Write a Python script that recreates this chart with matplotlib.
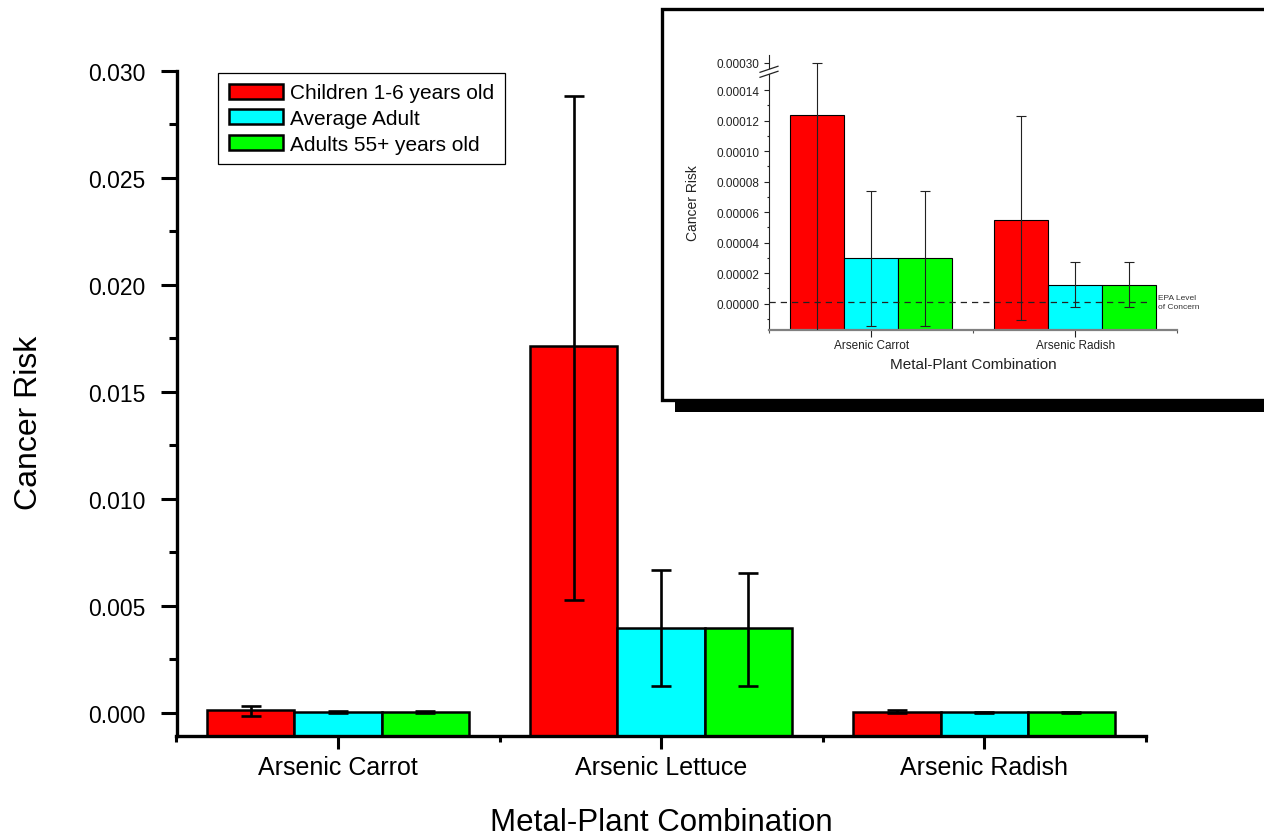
import numpy as np
import matplotlib
matplotlib.use('Agg')
import matplotlib.pyplot as plt
from matplotlib.patches import Rectangle, Polygon
from matplotlib.lines import Line2D
from matplotlib.ticker import FormatStrFormatter

plt.rcParams['font.family'] = ['Liberation Sans', 'DejaVu Sans']

# ---------------- data ----------------
groups = ['Arsenic Carrot', 'Arsenic Lettuce', 'Arsenic Radish']
series_names = ['Children 1-6 years old', 'Average Adult', 'Adults 55+ years old']

children = [0.000124, 0.01715, 0.0000552]
children_lo = [-0.00015, 0.00528, -0.0000107]
children_hi = [0.00030, 0.02883, 0.000123]

avg_adult = [0.0000297, 0.00397, 0.0000126]
avg_adult_lo = [-0.0000148, 0.00126, -0.0000024]
avg_adult_hi = [0.0000739, 0.00668, 0.0000275]

adults55 = [0.0000297, 0.00395, 0.0000126]
adults55_lo = [-0.0000148, 0.00126, -0.0000024]
adults55_hi = [0.0000739, 0.00654, 0.0000275]

main_yticks = [0.000, 0.005, 0.010, 0.015, 0.020, 0.025, 0.030]
inset_groups = [0, 2]
inset_yticks = [0.0, 0.00002, 0.00004, 0.00006, 0.00008, 0.00010, 0.00012, 0.00014, 0.00030]
epa_level = 0.000001
epa_label = 'EPA Level\nof Concern'

colors = ['#ff0000', '#00ffff', '#00ff00']

# ---------------- figure ----------------
W, H = 1264, 837
fig = plt.figure(figsize=(W / 100, H / 100), dpi=100)


def fx(px):
    return px / W


def fy(py):
    return 1 - py / H


series = [
    (children, children_lo, children_hi),
    (avg_adult, avg_adult_lo, avg_adult_hi),
    (adults55, adults55_lo, adults55_hi),
]

# ---------------- main axes ----------------
ax = fig.add_axes([fx(176.5), fy(737), fx(1145.7) - fx(176.5), (737 - 72) / H], zorder=0)
main_ylo, main_yhi = -0.00109, 0.030
x = np.arange(len(groups))
bw = 0.27
offsets = [-bw, 0.0, bw]
for (vals, lo, hi), off, col, name in zip(series, offsets, colors, series_names):
    v = np.array(vals)
    # bars rise from the bottom of the axis, as in the original (Origin style)
    ax.bar(x + off, v - main_ylo, bw, bottom=main_ylo, color=col, edgecolor='black',
           linewidth=1.8, label=name, zorder=2)
    ax.errorbar(x + off, v, yerr=[v - np.array(lo), np.array(hi) - v], fmt='none',
                ecolor='black', elinewidth=1.9, capsize=7, capthick=1.9, zorder=3)

ax.set_xlim(-0.5, 2.5)
ax.set_ylim(main_ylo, main_yhi)
ax.set_xticks(x)
ax.set_xticklabels(groups)
ax.set_xticks([-0.5, 0.5, 1.5, 2.5], minor=True)
ax.set_yticks(main_yticks)
ax.set_yticks([0.0025, 0.0075, 0.0125, 0.0175, 0.0225, 0.0275], minor=True)
ax.yaxis.set_major_formatter(FormatStrFormatter('%.3f'))
for s in ['top', 'right']:
    ax.spines[s].set_visible(False)
for s in ['left', 'bottom']:
    ax.spines[s].set_linewidth(2.4)
ax.tick_params(axis='y', which='major', direction='out', length=11.5, width=2.2, labelsize=16.5, pad=11)
ax.tick_params(axis='y', which='minor', direction='out', length=6, width=2.2)
ax.tick_params(axis='x', which='major', direction='out', length=9.5, width=2.2, labelsize=18, pad=4)
ax.tick_params(axis='x', which='minor', direction='out', length=4.3, width=2.2)

leg = ax.legend(loc='upper left', bbox_to_anchor=(fx(218.3), fy(74)), bbox_transform=fig.transFigure,
                borderaxespad=0, frameon=True, fancybox=False, edgecolor='black', framealpha=1,
                fontsize=15, handlelength=2.6, handleheight=0.75, handletextpad=0.35,
                labelspacing=0.32, borderpad=0.5)
leg.get_frame().set_linewidth(0.9)

fig.text(fx(29), fy(423), 'Cancer Risk', rotation=90, ha='center', va='center', fontsize=23)
fig.text(fx(661), fy(831.5), 'Metal-Plant Combination', ha='center', va='baseline', fontsize=22.5)

# ---------------- inset frame ----------------
shadow = Rectangle((fx(675), fy(413)), fx(1300) - fx(675), (413 - 402) / H,
                   transform=fig.transFigure, facecolor='black', edgecolor='none', zorder=1.4)
frame = Rectangle((fx(661.5), fy(401)), fx(1300) - fx(661.5), (401 - 10) / H,
                  transform=fig.transFigure, facecolor='white', edgecolor='black', linewidth=2.4, zorder=1.5)
fig.add_artist(shadow)
fig.add_artist(frame)

# ---------------- inset axes (broken y scale) ----------------
B, G, T = 0.00015, 0.000004, 0.000296


def fwd(y):
    y = np.asarray(y, dtype=float)
    return np.where(y <= B, y, np.where(y < T, B + (y - B) / (T - B) * G, y - T + B + G))


def inv(m):
    m = np.asarray(m, dtype=float)
    return np.where(m <= B, m, np.where(m < B + G, B + (m - B) / G * (T - B), m + T - B - G))


ax2 = fig.add_axes([fx(769), fy(331), fx(1177.3) - fx(769), (331 - 56) / H], zorder=2)
ax2.set_yscale('function', functions=(fwd, inv))
ylo, yhi = -0.0000172, 0.000305
ax2.set_ylim(ylo, yhi)
ax2.set_xlim(-0.5, 1.5)

xi = np.arange(len(inset_groups))
bw2 = 0.265
offsets2 = [-bw2, 0.0, bw2]
for (vals, lo, hi), off, col in zip(series, offsets2, colors):
    v = np.array(vals)[inset_groups]
    l = np.array(lo)[inset_groups]
    h = np.array(hi)[inset_groups]
    ax2.bar(xi + off, v - ylo, bw2, bottom=ylo, color=col, edgecolor='black', linewidth=0.8, zorder=2)
    ax2.errorbar(xi + off, v, yerr=[v - l, h - v], fmt='none', ecolor='#222222',
                 elinewidth=0.8, capsize=3.5, capthick=0.8, zorder=3)

ax2.axhline(epa_level, xmin=0, xmax=0.933, color='#222222', linestyle=(0, (5, 4)), linewidth=0.9, zorder=4)
ax2.text(1.405, epa_level, epa_label, fontsize=6, ha='left', va='center', linespacing=1.5,
         color='#333333', clip_on=False)

ax2.set_yticks(inset_yticks)
ax2.set_yticks([-0.00001, 0.00001, 0.00003, 0.00005, 0.00007, 0.00009, 0.00011, 0.00013], minor=True)
ax2.yaxis.set_major_formatter(FormatStrFormatter('%.5f'))
ax2.yaxis.set_minor_formatter(plt.NullFormatter())
ax2.set_xticks(xi)
ax2.set_xticklabels([groups[i] for i in inset_groups])
ax2.set_xticks([-0.5, 0.5, 1.5], minor=True)
for s in ['top', 'right']:
    ax2.spines[s].set_visible(False)
ax2.spines['left'].set_color('#222222')
ax2.spines['left'].set_linewidth(0.8)
ax2.spines['bottom'].set_color('#808080')
ax2.spines['bottom'].set_linewidth(1.6)
ax2.tick_params(axis='y', which='major', direction='out', length=3.6, width=0.8, labelsize=8.5, pad=3,
                color='#222222', labelcolor='#222222')
ax2.tick_params(axis='y', which='minor', direction='out', length=1.8, width=0.8, color='#222222')
ax2.tick_params(axis='x', which='major', direction='out', length=4.8, width=0.8, labelsize=8.5, pad=2,
                color='#222222', labelcolor='#222222')
ax2.tick_params(axis='x', which='minor', direction='out', length=2, width=0.8, color='#555555')

# break marks on the inset y axis
m_lo, m_hi = float(fwd(ylo)), float(fwd(yhi))


def frac(v):
    return (float(fwd(v)) - m_lo) / (m_hi - m_lo)


f1 = frac(B) + 0.002
f2 = frac(T) - 0.002
dx, dy = 0.022, 0.011
gap = Polygon([(-dx, f1 - dy), (dx, f1 + dy), (dx, f2 + dy), (-dx, f2 - dy)], closed=True,
              transform=ax2.transAxes, facecolor='white', edgecolor='none', clip_on=False, zorder=5)
ax2.add_artist(gap)
for f in (f1, f2):
    ax2.add_artist(Line2D([-dx, dx], [f - dy, f + dy], transform=ax2.transAxes, color='#222222',
                          linewidth=0.9, clip_on=False, zorder=6))

fig.text(fx(693), fy(203), 'Cancer Risk', rotation=90, ha='center', va='center', fontsize=10,
         color='#222222', zorder=3)
fig.text(fx(973), fy(365), 'Metal-Plant Combination', ha='center', va='center', fontsize=11,
         color='#222222', zorder=3)

fig.savefig('out.png', dpi=100)
